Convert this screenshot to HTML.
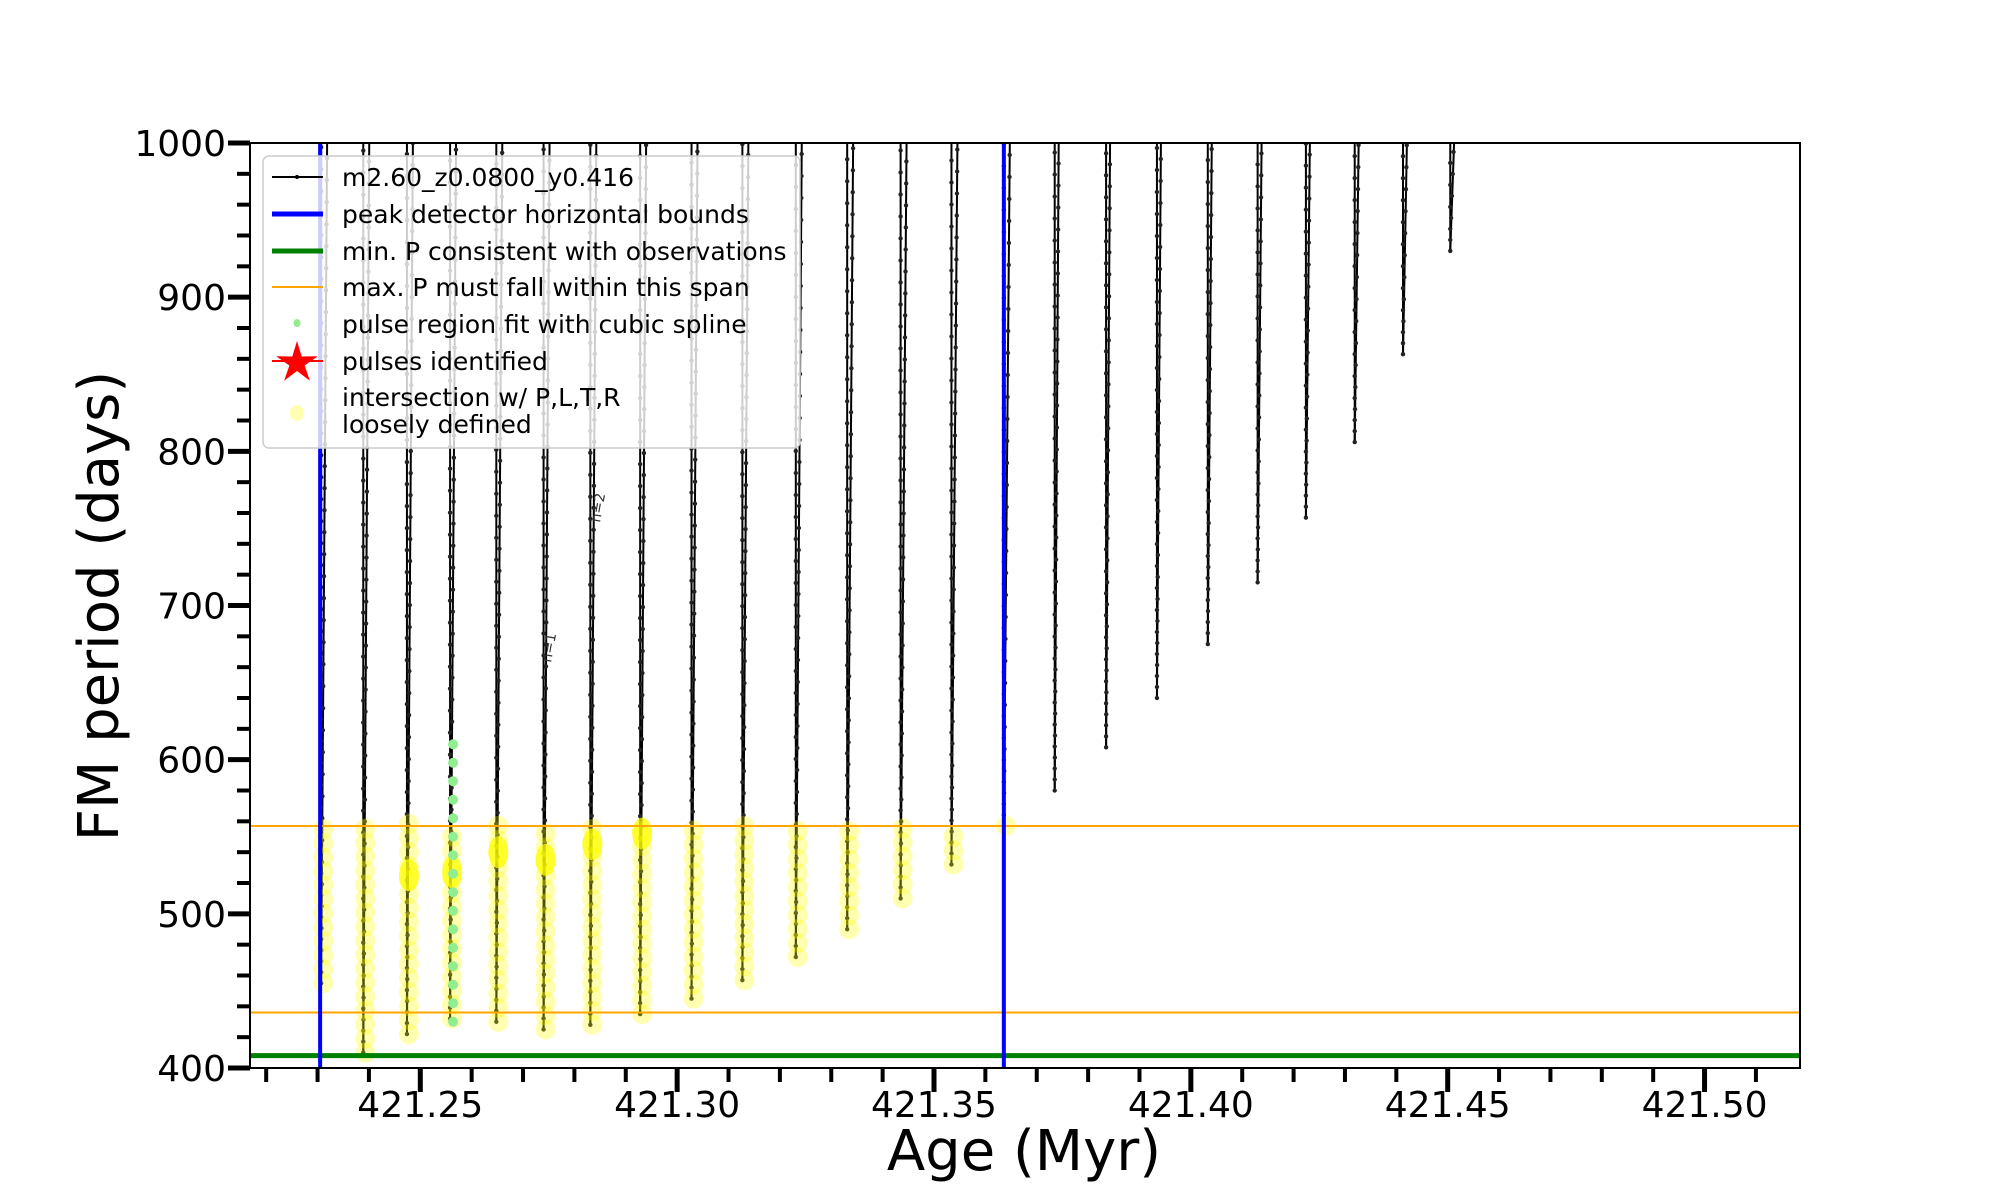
<!DOCTYPE html>
<html><head><meta charset="utf-8">
<style>
html,body{margin:0;padding:0;background:#fff;}
svg{display:block;font-family:"DejaVu Sans","Liberation Sans",sans-serif;}
</style></head>
<body>
<svg id="chart" width="2000" height="1200" viewBox="0 0 2000 1200" xmlns="http://www.w3.org/2000/svg">
  <rect x="0" y="0" width="2000" height="1200" fill="#fff"/>
  <g id="marks"></g>
  <g id="axes"></g>
  <g id="legend"></g>
</svg>
<script>
// ---- data ----
const spikeAges = [421.2307,421.2389,421.2474,421.2558,421.2648,421.2740,421.2831,421.2928,421.3028,421.3127,421.3231,421.3331,421.3435,421.3534,421.3636,421.3735,421.3835,421.3934,421.4033,421.4130,421.4224,421.4319,421.4413,421.4505];
const spikeMinPeriods = [455,410,422,432,430,425,428,435,445,457,472,490,510,532,557,580,608,640,675,715,757,806,863,930];
const clusterPeriods = [0,0,525,527,540,535,545,552,0,0,0,0,0,0,0];
const peakBounds = [421.2305,421.3636];
const minPeriodObs = [408];
const maxPeriodSpan = [436,557];
const splineSpike = [3];
const splineRange = [430,620];
const xTicks = [421.25,421.30,421.35,421.40,421.45,421.50];
const xTickLabels = ["421.25","421.30","421.35","421.40","421.45","421.50"];
const yTicks = [400,500,600,700,800,900,1000];
const yTickLabels = ["400","500","600","700","800","900","1000"];

// ---- axes ----
const L=250,R=1800,T=143,B=1068;
const xMin=421.21685,xMax=421.51858,yMin=400,yMax=1000;
const X=v=>L+(v-xMin)/(xMax-xMin)*(R-L);
const Y=v=>B-(v-yMin)/(yMax-yMin)*(B-T);
const NS="http://www.w3.org/2000/svg";
function mk(tag,attrs,parent){const e=document.createElementNS(NS,tag);for(const k in attrs)e.setAttribute(k,attrs[k]);parent.appendChild(e);return e;}
const marks=document.getElementById('marks');
const axes=document.getElementById('axes');

const defs=mk('defs',{},marks);
const cp=mk('clipPath',{id:'clip'},defs);
mk('rect',{x:L,y:T,width:R-L,height:B-T},cp);
const g=mk('g',{'clip-path':'url(#clip)'},marks);

// spikes
spikeAges.forEach((a,i)=>{
  const x=X(a), yb=Y(spikeMinPeriods[i]);
  const off=i<15?6:4;
  const sg=mk('g',{},g);
  
  
  mk('line',{x1:x,y1:Y(1000)-5,x2:x,y2:yb,stroke:'#000','stroke-width':2},sg);
  mk('line',{x1:x,y1:yb,x2:x+off,y2:Y(1000)-5,stroke:'#000','stroke-width':2},sg);
  const len=yb-Y(1000);
  for(let k=0;k*22<len;k++){
    const yy=yb-k*22;
    mk('circle',{cx:x,cy:yy,r:2.2,fill:'#222'},sg);
    const t=(yy-Y(1000))/len;
    mk('circle',{cx:x+off*(1-t),cy:yy-11,r:2.2,fill:'#222'},sg);
  }
});

// yellow intersection circles
spikeAges.forEach((a,i)=>{
  const mn=spikeMinPeriods[i];
  if(mn>maxPeriodSpan[1]+1||a>peakBounds[1]+0.0001)return;
  const x=X(a);
  const y0=Y(Math.min(mn,maxPeriodSpan[1])), y1=Y(maxPeriodSpan[1]);
  for(let yy=y0; yy>=y1-2; yy-=14){
    const c=mk('circle',{cx:x+2,cy:yy,r:10,fill:'#ffff00','fill-opacity':0.3},g);
    
    
  }
  const cl=clusterPeriods[i];
  if(cl){
    const blob=mk('ellipse',{cx:x+2,cy:Y(cl),rx:10,ry:16,fill:'#ffff00','fill-opacity':0.75},g);
    
    
  }
});

// green spline dots
splineSpike.forEach(i=>{
  const x=X(spikeAges[i]);
  for(let p=splineRange[0];p<=splineRange[1];p+=12){
    const c=mk('circle',{cx:x+3,cy:Y(p),r:5,fill:'#90ee90'},g);
    
    
  }
});

// reference lines
maxPeriodSpan.forEach(v=>{const l=mk('line',{x1:L,x2:R,y1:Y(v),y2:Y(v),stroke:'#ffa500','stroke-width':2},g);
  });
minPeriodObs.forEach(v=>{const l=mk('line',{x1:L,x2:R,y1:Y(v),y2:Y(v),stroke:'#008000','stroke-width':5},g);
  });
peakBounds.forEach(v=>{const l=mk('line',{x1:X(v),x2:X(v),y1:T,y2:B,stroke:'#0000ff','stroke-width':4},g);
  });

// n labels
[[551,663,'n=1'],[600,523,'n=2']].forEach(d=>{
  const t=mk('text',{x:d[0],y:d[1],'font-size':14,fill:'#333',transform:`rotate(-80 ${d[0]} ${d[1]})`},g);
  t.textContent=d[2];
  
});

// frame
mk('rect',{x:L,y:T,width:R-L,height:B-T,fill:'none',stroke:'#000','stroke-width':2},axes);

// x ticks
for(let k=22;k<=51;k++){
  const v=421+k/100;
  if(v>xMax)break;
  const major=xTicks.some(t=>Math.abs(t-v)<1e-6);
  mk('line',{x1:X(v),x2:X(v),y1:B,y2:B+(major?24:14),stroke:'#000','stroke-width':major?5:4},axes);
}
xTicks.forEach((v,i)=>{
  const t=mk('text',{x:X(v),y:B+49,'font-size':36,'text-anchor':'middle',fill:'#000'},axes);
  t.textContent=xTickLabels[i];
  
});
// y ticks
for(let v=400;v<=1000;v+=20){
  const major=v%100===0;
  mk('line',{x1:L,x2:L-(major?22:13),y1:Y(v),y2:Y(v),stroke:'#000','stroke-width':major?5:4},axes);
}
yTicks.forEach((v,i)=>{
  const t=mk('text',{x:L-24,y:Y(v)+13,'font-size':36,'text-anchor':'end',fill:'#000'},axes);
  t.textContent=yTickLabels[i];
  
});
const xl=mk('text',{x:1024,y:1170,'font-size':56,'text-anchor':'middle',fill:'#000'},axes);
xl.textContent='Age (Myr)';
const yl=mk('text',{x:118,y:606,'font-size':56,'text-anchor':'middle',fill:'#000',transform:'rotate(-90 118 606)'},axes);
yl.textContent='FM period (days)';

// legend
const lg=document.getElementById('legend');
mk('rect',{x:263,y:156,width:537,height:292,rx:6,fill:'#fff','fill-opacity':0.8,stroke:'#ccc','stroke-width':1.5},lg);
const ent=[
 ['line','#000',2,'m2.60_z0.0800_y0.416',177],
 ['line','#0000ff',5,'peak detector horizontal bounds',214],
 ['line','#008000',5,'min. P consistent with observations',251],
 ['line','#ffa500',2,'max. P must fall within this span',287],
 ['dot','#90ee90',0,'pulse region fit with cubic spline',324],
 ['star','#ff0000',0,'pulses identified',361],
 ['yel','#ffff00',0,'intersection w/ P,L,T,R',397]
];
ent.forEach(e=>{
  const eg=mk('g',{},lg);
  
  
  const y=e[4];
  if(e[0]==='line'){mk('line',{x1:272,x2:323,y1:y,y2:y,stroke:e[1],'stroke-width':e[2]},eg);
    if(e[1]==='#000')mk('circle',{cx:297,cy:y,r:2,fill:'#000'},eg);}
  if(e[0]==='dot')mk('ellipse',{cx:297,cy:y-1,rx:3.5,ry:4,fill:e[1]},eg);
  if(e[0]==='star'){mk('line',{x1:272,x2:323,y1:y,y2:y,stroke:'#f00','stroke-width':2},eg);
    const pts=[];for(let k=0;k<10;k++){const r=k%2?8:22,a=-Math.PI/2+k*Math.PI/5;pts.push((297+r*Math.cos(a)).toFixed(1)+','+(y+2+r*Math.sin(a)).toFixed(1));}
    mk('polygon',{points:pts.join(' '),fill:'#f00'},eg);}
  if(e[0]==='yel')mk('ellipse',{cx:297,cy:y+16,rx:7,ry:8,fill:'#ffff00','fill-opacity':0.3},eg);
  const t=mk('text',{x:342,y:y+9,'font-size':25,fill:'#000'},eg);t.textContent=e[3];
  if(e[0]==='yel'){const t2=mk('text',{x:342,y:y+36,'font-size':25,fill:'#000'},eg);t2.textContent='loosely defined';}
});
</script>
</body></html>
